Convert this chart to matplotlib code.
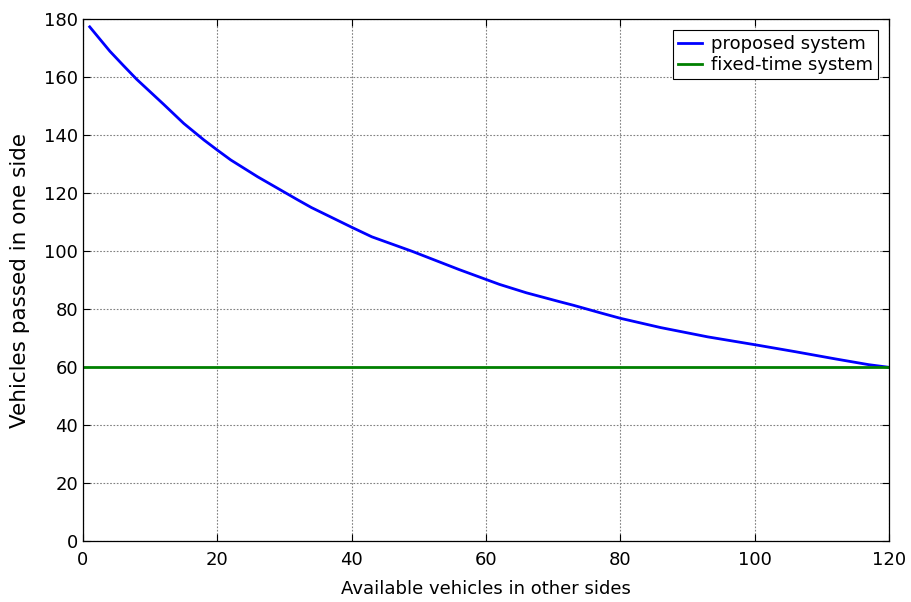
import matplotlib
matplotlib.use("Agg")
import matplotlib.pyplot as plt

# values
avail = [1, 4, 6, 8, 10, 12, 15, 18, 20, 22, 26, 29, 32, 34, 40, 43, 49, 52,
         56, 60, 62, 66, 71, 73, 77, 80, 86, 93, 100, 106, 112, 117, 120]
proposed = [177.3, 168.9, 164.0, 159.2, 154.9, 150.6, 144.0, 138.3, 134.8,
            131.4, 125.6, 121.6, 117.6, 115.0, 108.2, 104.9, 99.9, 97.2,
            93.6, 90.2, 88.5, 85.6, 82.5, 81.3, 78.7, 76.8, 73.6, 70.4,
            67.7, 65.3, 62.8, 60.8, 59.9]
fixed_x = [0, 120]
fixed = [60, 60]

xticks = list(range(0, 121, 20))
yticks = list(range(0, 181, 20))

plt.rcParams['font.family'] = ['DejaVu Sans']

fig = plt.figure(figsize=(9.11, 6.02), dpi=100)
ax = fig.add_axes([0.0911, 0.1013, 0.8848, 0.8671])

ax.plot(avail, proposed, color='#0000ff', lw=2.0, label='proposed system')
ax.plot(fixed_x, fixed, color='#008000', lw=2.0, label='fixed-time system')

ax.set_xlim(0, 120)
ax.set_ylim(0, 180)
ax.set_xticks(xticks)
ax.set_yticks(yticks)
ax.grid(True, color='#808080', linestyle=(0, (1.5, 1.5)), lw=0.8)
ax.tick_params(direction='in', top=True, right=True, length=5,
               labelsize=13, width=0.8)
ax.tick_params(axis='x', pad=7)
for s in ax.spines.values():
    s.set_linewidth(0.9)

ax.set_xlabel('Available vehicles in other sides', fontsize=13, labelpad=8)
ax.set_ylabel('Vehicles passed in one side', fontsize=15.5, labelpad=10)

leg = ax.legend(loc='upper right', fontsize=13, fancybox=False,
                edgecolor='black', framealpha=1, handlelength=1.3,
                handletextpad=0.5, borderaxespad=0.6, labelspacing=0.15,
                borderpad=0.3)
leg.get_frame().set_linewidth(0.8)

fig.savefig('out.png', dpi=100)
